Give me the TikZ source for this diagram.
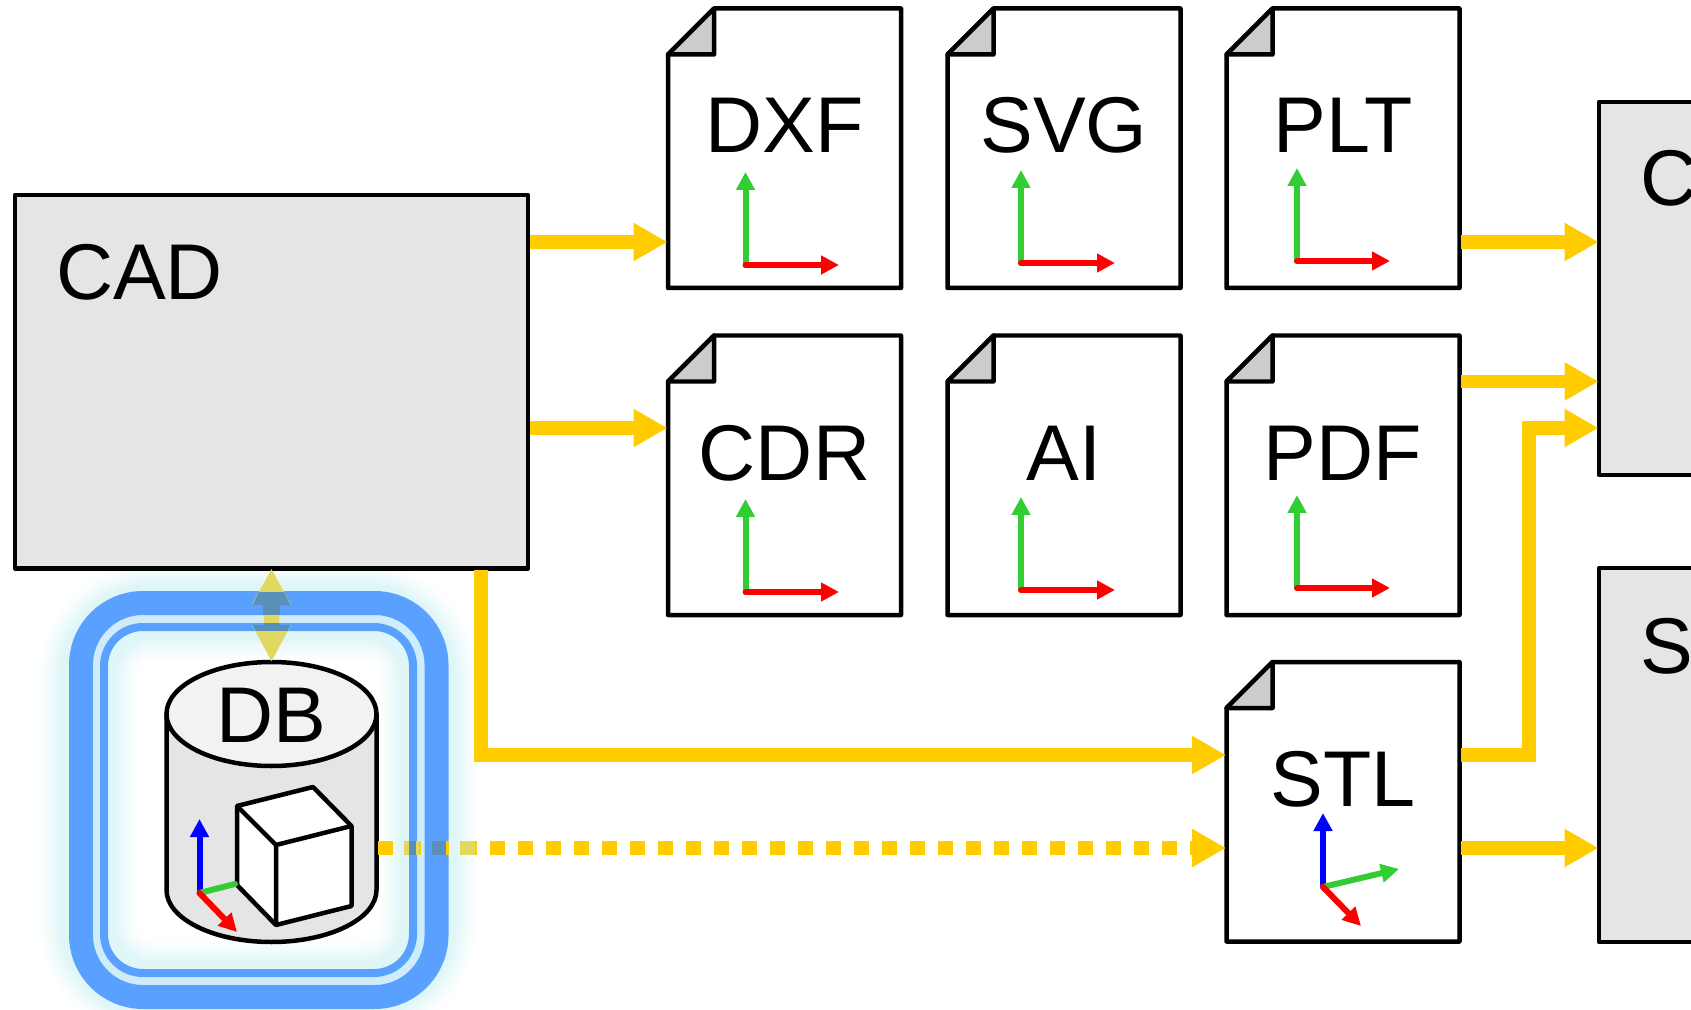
\documentclass[tikz,border=0pt]{standalone}
\usepackage{fontspec}
\setmainfont{Liberation Sans}
\usetikzlibrary{arrows.meta,calc}
\definecolor{flowc}{HTML}{FFCC00}
\definecolor{flowtint}{HTML}{E0D860}
\definecolor{flowblue}{HTML}{5A8FB8}
\definecolor{ringc}{HTML}{5AA0FF}
\definecolor{bandc}{HTML}{CFEDF9}
\definecolor{glowc}{HTML}{DFF6F8}
\definecolor{boxc}{HTML}{E5E5E5}
\definecolor{topc}{HTML}{F2F2F2}
\definecolor{foldc}{HTML}{CCCCCC}
\definecolor{axg}{HTML}{32CD32}
\tikzset{
  outline/.style={draw=black,line width=0.09cm,line join=round},
  bigtext/.style={font=\fontsize{45}{50}\selectfont,inner sep=0pt,anchor=base},
  hold/.style={inner sep=0pt,outer sep=0pt,minimum width=4.66cm,minimum height=5.59cm},
  flow/.style={draw=flowc,line width=0.28cm,shorten <=0.04cm,shorten >=0.01cm,-{Triangle[length=0.68cm,width=0.72cm]}},
  axisline/.style={line width=0.12cm,line cap=round,-{Triangle[length=0.36cm,width=0.36cm]}},
  process/.style={outline,fill=boxc,inner sep=0pt,outer sep=0pt},
}
% name, left x, top y, label
\newcommand{\docnode}[4]{%
  \node[hold,anchor=north west] (#1) at (#2,#3) {};
  \begin{scope}[shift={(#2,#3)}]
    \draw[outline,fill=white] (0,46) -- (46,0) -- (233,0) -- (233,279.5) -- (0,279.5) -- cycle;
    \draw[outline,fill=foldc] (0,46) -- (46,0) -- (46,46) -- cycle;
    \node[bigtext] (#1-label) at (116.5,144.5) {#4};
  \end{scope}}
% ox, oy, green tip y, red tip x
\newcommand{\flataxes}[4]{%
  \draw[axisline,draw=axg,fill=axg] (#1,#2) -- (#1,#3);
  \draw[axisline,draw=red,fill=red] (#1,#2) -- (#4,#2);}
\begin{document}
\begin{tikzpicture}[x=0.02cm,y=-0.02cm]
\useasboundingbox (0,0) rectangle (1691,1010);
\clip (0,0) rectangle (1691,1010);
\fill[white] (0,0) rectangle (1691,1010);

% glow round the rings
\foreach \i in {0,...,17}{
  \pgfmathsetmacro{\w}{0.02*(106-3*\i)}
  \pgfmathsetmacro{\p}{100*(\i/17)^1.5}
  \draw[draw=glowc!\p!white,line width=\w cm,rounded corners=1.3cm] (88,611) rectangle (428,989);
}
\draw[draw=bandc,line width=0.2cm,rounded corners=1cm] (96,619) rectangle (421,981);
\draw[draw=ringc,line width=0.48cm,rounded corners=1.24cm] (81,603) rectangle (436.5,997);
\draw[draw=ringc,line width=0.16cm,rounded corners=0.78cm] (104,627) rectangle (413,973);

% process boxes
\node[process,anchor=north west,minimum width=10.26cm,minimum height=7.47cm] (cad) at (15,195) {};
\node[bigtext] (cadlabel) at (139.5,299.5) {CAD};
\node[process,anchor=north west,minimum width=4cm,minimum height=7.46cm] (cnc) at (1599,102) {};
\node[bigtext,anchor=base west] (cnclabel) at (1640,206) {C};
\node[process,anchor=north west,minimum width=4cm,minimum height=7.48cm] (slm) at (1599,568) {};
\node[bigtext,anchor=base west] (slmlabel) at (1640,673) {S};

% documents
\docnode{dxf}{668}{8.5}{DXF}
\docnode{svg}{947.5}{8.5}{SVG}
\docnode{plt}{1226.5}{8.5}{PLT}
\docnode{cdr}{668}{335.5}{CDR}
\docnode{ai}{947.5}{335.5}{AI}
\docnode{pdf}{1226.5}{335.5}{PDF}
\docnode{stl}{1226.5}{662}{STL}

\flataxes{745.5}{265}{172}{839}
\flataxes{1021}{263}{170}{1115}
\flataxes{1297}{261}{168}{1390}
\flataxes{745.5}{592}{499}{839}
\flataxes{1021}{590}{497}{1115}
\flataxes{1297}{588}{495}{1390}

% STL axes
\draw[axisline,draw=blue,fill=blue] (1323,887) -- (1323,813);
\draw[axisline,draw=axg,fill=axg] (1323,887) -- (1399,869);
\draw[axisline,draw=red,fill=red] (1323,887) -- (1361,926);

% database
\node[inner sep=0pt,outer sep=0pt,minimum width=4.2cm,minimum height=5.6cm] (cyl) at (271.5,802) {};
\draw[outline,fill=boxc] (166.5,714) -- (166.5,890) arc[start angle=180,end angle=0,x radius=105,y radius=52] -- (376.5,714) -- cycle;
\draw[outline,fill=topc] (271.5,714) ellipse[x radius=105,y radius=52];
\node[bigtext] (dblabel) at (271.5,742) {DB};
\draw[outline,fill=white] (237,806) -- (313,787) -- (351.5,826) -- (351.5,906) -- (276,925) -- (237,885) -- cycle;
\draw[outline] (237,806) -- (276,845) -- (351.5,826) (276,845) -- (276,925);
\draw[axisline,draw=blue,fill=blue] (199.5,893) -- (199.5,819);
\draw[line width=0.12cm,line cap=round,draw=axg] (199.5,893) -- (235,884);
\draw[axisline,draw=red,fill=red] (199.5,893) -- (237,932);

% port levels
\coordinate (r1) at (0,242);
\coordinate (r2) at (0,428);
\coordinate (r3) at (0,381.5);
\coordinate (r4) at (0,755);
\coordinate (r5) at (0,848);
\coordinate (c1) at (481,0);
\coordinate (c2) at (1529,0);

% connectors
\draw[flow] (cad.east |- r1) -- (dxf.west |- r1);
\draw[flow] (cad.east |- r2) -- (cdr.west |- r2);
\draw[flow] (plt.east |- r1) -- (cnc.west |- r1);
\draw[flow] (pdf.east |- r3) -- (cnc.west |- r3);
\draw[flow] (stl.east |- r5) -- (slm.west |- r5);
\draw[flow] (cad.south -| c1) -- (c1 |- r4) -- (stl.west |- r4);
\draw[flow] (stl.east |- r4) -- (c2 |- r4) -- (c2 |- r2) -- (cnc.west |- r2);
\draw[flow,dash pattern=on 0.3cm off 0.26cm] (cyl.east |- r5) -- (stl.west |- r5);

% where the dotted connector crosses the glow and the rings
\fill[flowtint] (404,841) rectangle (419,855);
\fill[flowblue] (409,841) rectangle (416,855);
\fill[flowblue] (432,841) rectangle (446,855);
\fill[flowtint] (460,841) rectangle (475,855);

% link between CAD and the database
\draw[draw=flowtint,line width=0.3cm,{Triangle[length=0.72cm,width=0.72cm]}-{Triangle[length=0.74cm,width=0.72cm]}] (cad.south -| cyl.north) -- (cyl.north);
\begin{scope}
  \clip (271.5,567) -- (290.5,605) -- (280,605) -- (280,625) -- (290.5,625) -- (271.5,663) -- (252.5,625) -- (263,625) -- (263,605) -- (252.5,605) -- cycle;
  \fill[flowblue] (240,592) rectangle (300,615);
  \fill[flowblue] (240,623) rectangle (300,631);
\end{scope}
\end{tikzpicture}
\end{document}
